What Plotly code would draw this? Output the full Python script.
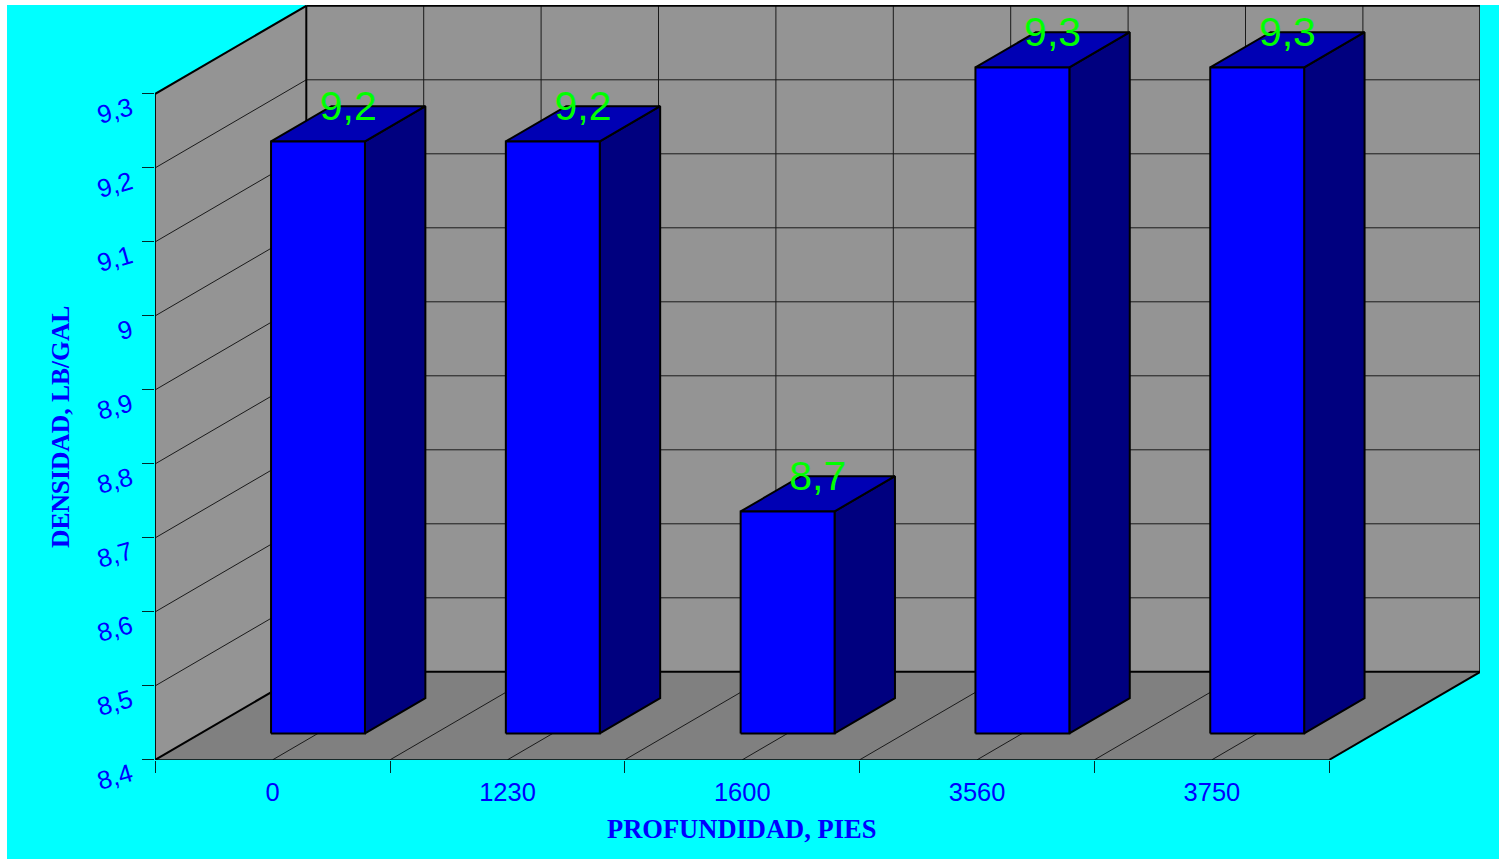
import plotly.graph_objects as go

categories = ["0", "1230", "1600", "3560", "3750"]
values = [9.2, 9.2, 8.7, 9.3, 9.3]
value_ticks = [8.4, 8.5, 8.6, 8.7, 8.8, 8.9, 9.0, 9.1, 9.2, 9.3]
value_labels = ["8,4", "8,5", "8,6", "8,7", "8,8", "8,9", "9", "9,1", "9,2", "9,3"]
value_text = ["9,2", "9,2", "8,7", "9,3", "9,3"]

W, H = 1499, 859
L, R, T, B = 155, 19, 5, 99
CAT_PX = 234.8
VAL_PX = 740.0
DX, DY = 151 / CAT_PX, 88 / VAL_PX
V0, V1 = 8.4, 9.3
N = len(categories)
BAR_A, BAR_B = 0.3, 0.7
WALL, FLOOR = "#949494", "#808080"
FRONT, TOP, SIDE = "#0000ff", "#0000b4", "#00007f"
PAD_X, PAD_Y = 0.3, 0.8


def proj(c, d, v):
    return c + DX * d, v + DY * d


def poly(points, fill, line_w=0, line_c="black"):
    xs, ys = zip(*[proj(*p) for p in points])
    return go.Scatter(x=list(xs) + [xs[0]], y=list(ys) + [ys[0]], mode="lines", fill="toself",
                      fillcolor=fill, line=dict(color=line_c, width=line_w), hoverinfo="skip",
                      showlegend=False, cliponaxis=False)


def lines(segments, width, color="#1a1a1a"):
    xs, ys = [], []
    for a, b in segments:
        pa, pb = proj(*a), proj(*b)
        xs += [pa[0], pb[0], None]
        ys += [pa[1], pb[1], None]
    return go.Scatter(x=xs, y=ys, mode="lines", line=dict(color=color, width=width),
                      hoverinfo="skip", showlegend=False, cliponaxis=False)


fig = go.Figure()
# walls and floor
fig.add_trace(poly([(0, 0, V0), (0, 1, V0), (0, 1, V1), (0, 0, V1)], WALL))
fig.add_trace(poly([(0, 1, V0), (N, 1, V0), (N, 1, V1), (0, 1, V1)], WALL))
fig.add_trace(poly([(0, 0, V0), (N, 0, V0), (N, 1, V0), (0, 1, V0)], FLOOR))

# grid
halves = [i / 2 for i in range(1, 2 * N)]
seg = []
for v in value_ticks[1:-1]:
    seg.append(((0, 0, v), (0, 1, v)))
    seg.append(((0, 1, v), (N, 1, v)))
for c in halves:
    seg.append(((c, 1, V0), (c, 1, V1)))
    seg.append(((c, 0, V0), (c, 1, V0)))
fig.add_trace(lines(seg, 1))

# frame
frame = [((0, 0, V0), (0, 1, V0)), ((0, 0, V1), (0, 1, V1)), ((0, 1, V0), (0, 1, V1)),
         ((0, 1, V1), (N, 1, V1)), ((N, 1, V0), (N, 1, V1)), ((0, 1, V0), (N, 1, V0)),
         ((N, 0, V0), (N, 1, V0))]
fig.add_trace(lines(frame, 2, "black"))
fig.add_trace(lines([((0, 0, V0), (0, 0, V1)), ((0, 0, V0), (N, 0, V0))], 1.2, "black"))

# bars
for i, val in enumerate(values):
    a, b = i + BAR_A, i + BAR_B
    fig.add_trace(poly([(b, BAR_A, V0), (b, BAR_B, V0), (b, BAR_B, val), (b, BAR_A, val)], SIDE, 2))
    fig.add_trace(poly([(a, BAR_A, val), (b, BAR_A, val), (b, BAR_B, val), (a, BAR_B, val)], TOP, 2))
    fig.add_trace(poly([(a, BAR_A, V0), (b, BAR_A, V0), (b, BAR_A, val), (a, BAR_A, val)], FRONT, 2))

# data labels
LABEL_RISE = 14 / VAL_PX
lx, ly = zip(*[proj(i + 0.5, 0.5, v) for i, v in enumerate(values)])
fig.add_trace(go.Scatter(x=list(lx), y=[y + LABEL_RISE for y in ly], mode="text", text=value_text,
                         textposition="middle center",
                         textfont=dict(family="Liberation Sans", size=41, color="#00ff00"),
                         hoverinfo="skip", showlegend=False, cliponaxis=False))

PW, PH = W - L - R, H - T - B
fig.update_xaxes(range=[-PAD_X / CAT_PX, (PW - PAD_X) / CAT_PX], tickmode="array",
                 tickvals=[i + 0.5 for i in range(N)], ticktext=categories,
                 ticks="outside", ticklen=9, tickcolor="rgba(0,0,0,0)",
                 tickfont=dict(family="Liberation Sans", size=25.5, color="#0000ff"),
                 showgrid=False, zeroline=False, showline=False, tickangle=0,
                 minor=dict(tickmode="array", tickvals=list(range(N + 1)), ticks="outside",
                            ticklen=12, tickwidth=1, tickcolor="#002a2a", showgrid=False))
fig.update_yaxes(range=[V0 - (1 - PAD_Y) / VAL_PX, V0 + (PH - (1 - PAD_Y)) / VAL_PX], tickmode="array",
                 tickvals=value_ticks, ticktext=value_labels, ticks="outside", ticklen=12,
                 tickwidth=1, tickcolor="#002a2a", tickangle=-16, ticklabelshift=12,
                 ticklabelstandoff=6,
                 tickfont=dict(family="Liberation Sans", size=25.5, color="#0000ff"),
                 showgrid=False, zeroline=False, showline=False)

fig.add_annotation(text="<b>PROFUNDIDAD, PIES</b>", xref="paper", yref="paper",
                   x=(741.5 - L) / PW, y=(H - B - 829) / PH, showarrow=False,
                   font=dict(family="Liberation Serif", size=26.5, color="#0000ff"),
                   xanchor="center", yanchor="middle")
fig.add_annotation(text="<b>DENSIDAD, LB/GAL</b>", xref="paper", yref="paper",
                   x=(60 - L) / PW, y=(H - B - 427) / PH, showarrow=False,
                   font=dict(family="Liberation Serif", size=25.5, color="#0000ff"),
                   textangle=-90, xanchor="center", yanchor="middle")
fig.add_shape(type="rect", xref="paper", yref="paper", layer="below",
              x0=(7 - L) / PW, x1=(W - L) / PW, y0=(H - B - H) / PH, y1=(H - B - 5) / PH,
              fillcolor="#00ffff", line_width=0)

fig.update_layout(width=W, height=H, margin=dict(l=L, r=R, t=T, b=B, autoexpand=False),
                  paper_bgcolor="white", plot_bgcolor="rgba(0,0,0,0)", showlegend=False)
fig.write_html("out.html", config=dict(displayModeBar=False),
               post_script="document.body.style.margin='0';document.documentElement.style.overflow='hidden';")
